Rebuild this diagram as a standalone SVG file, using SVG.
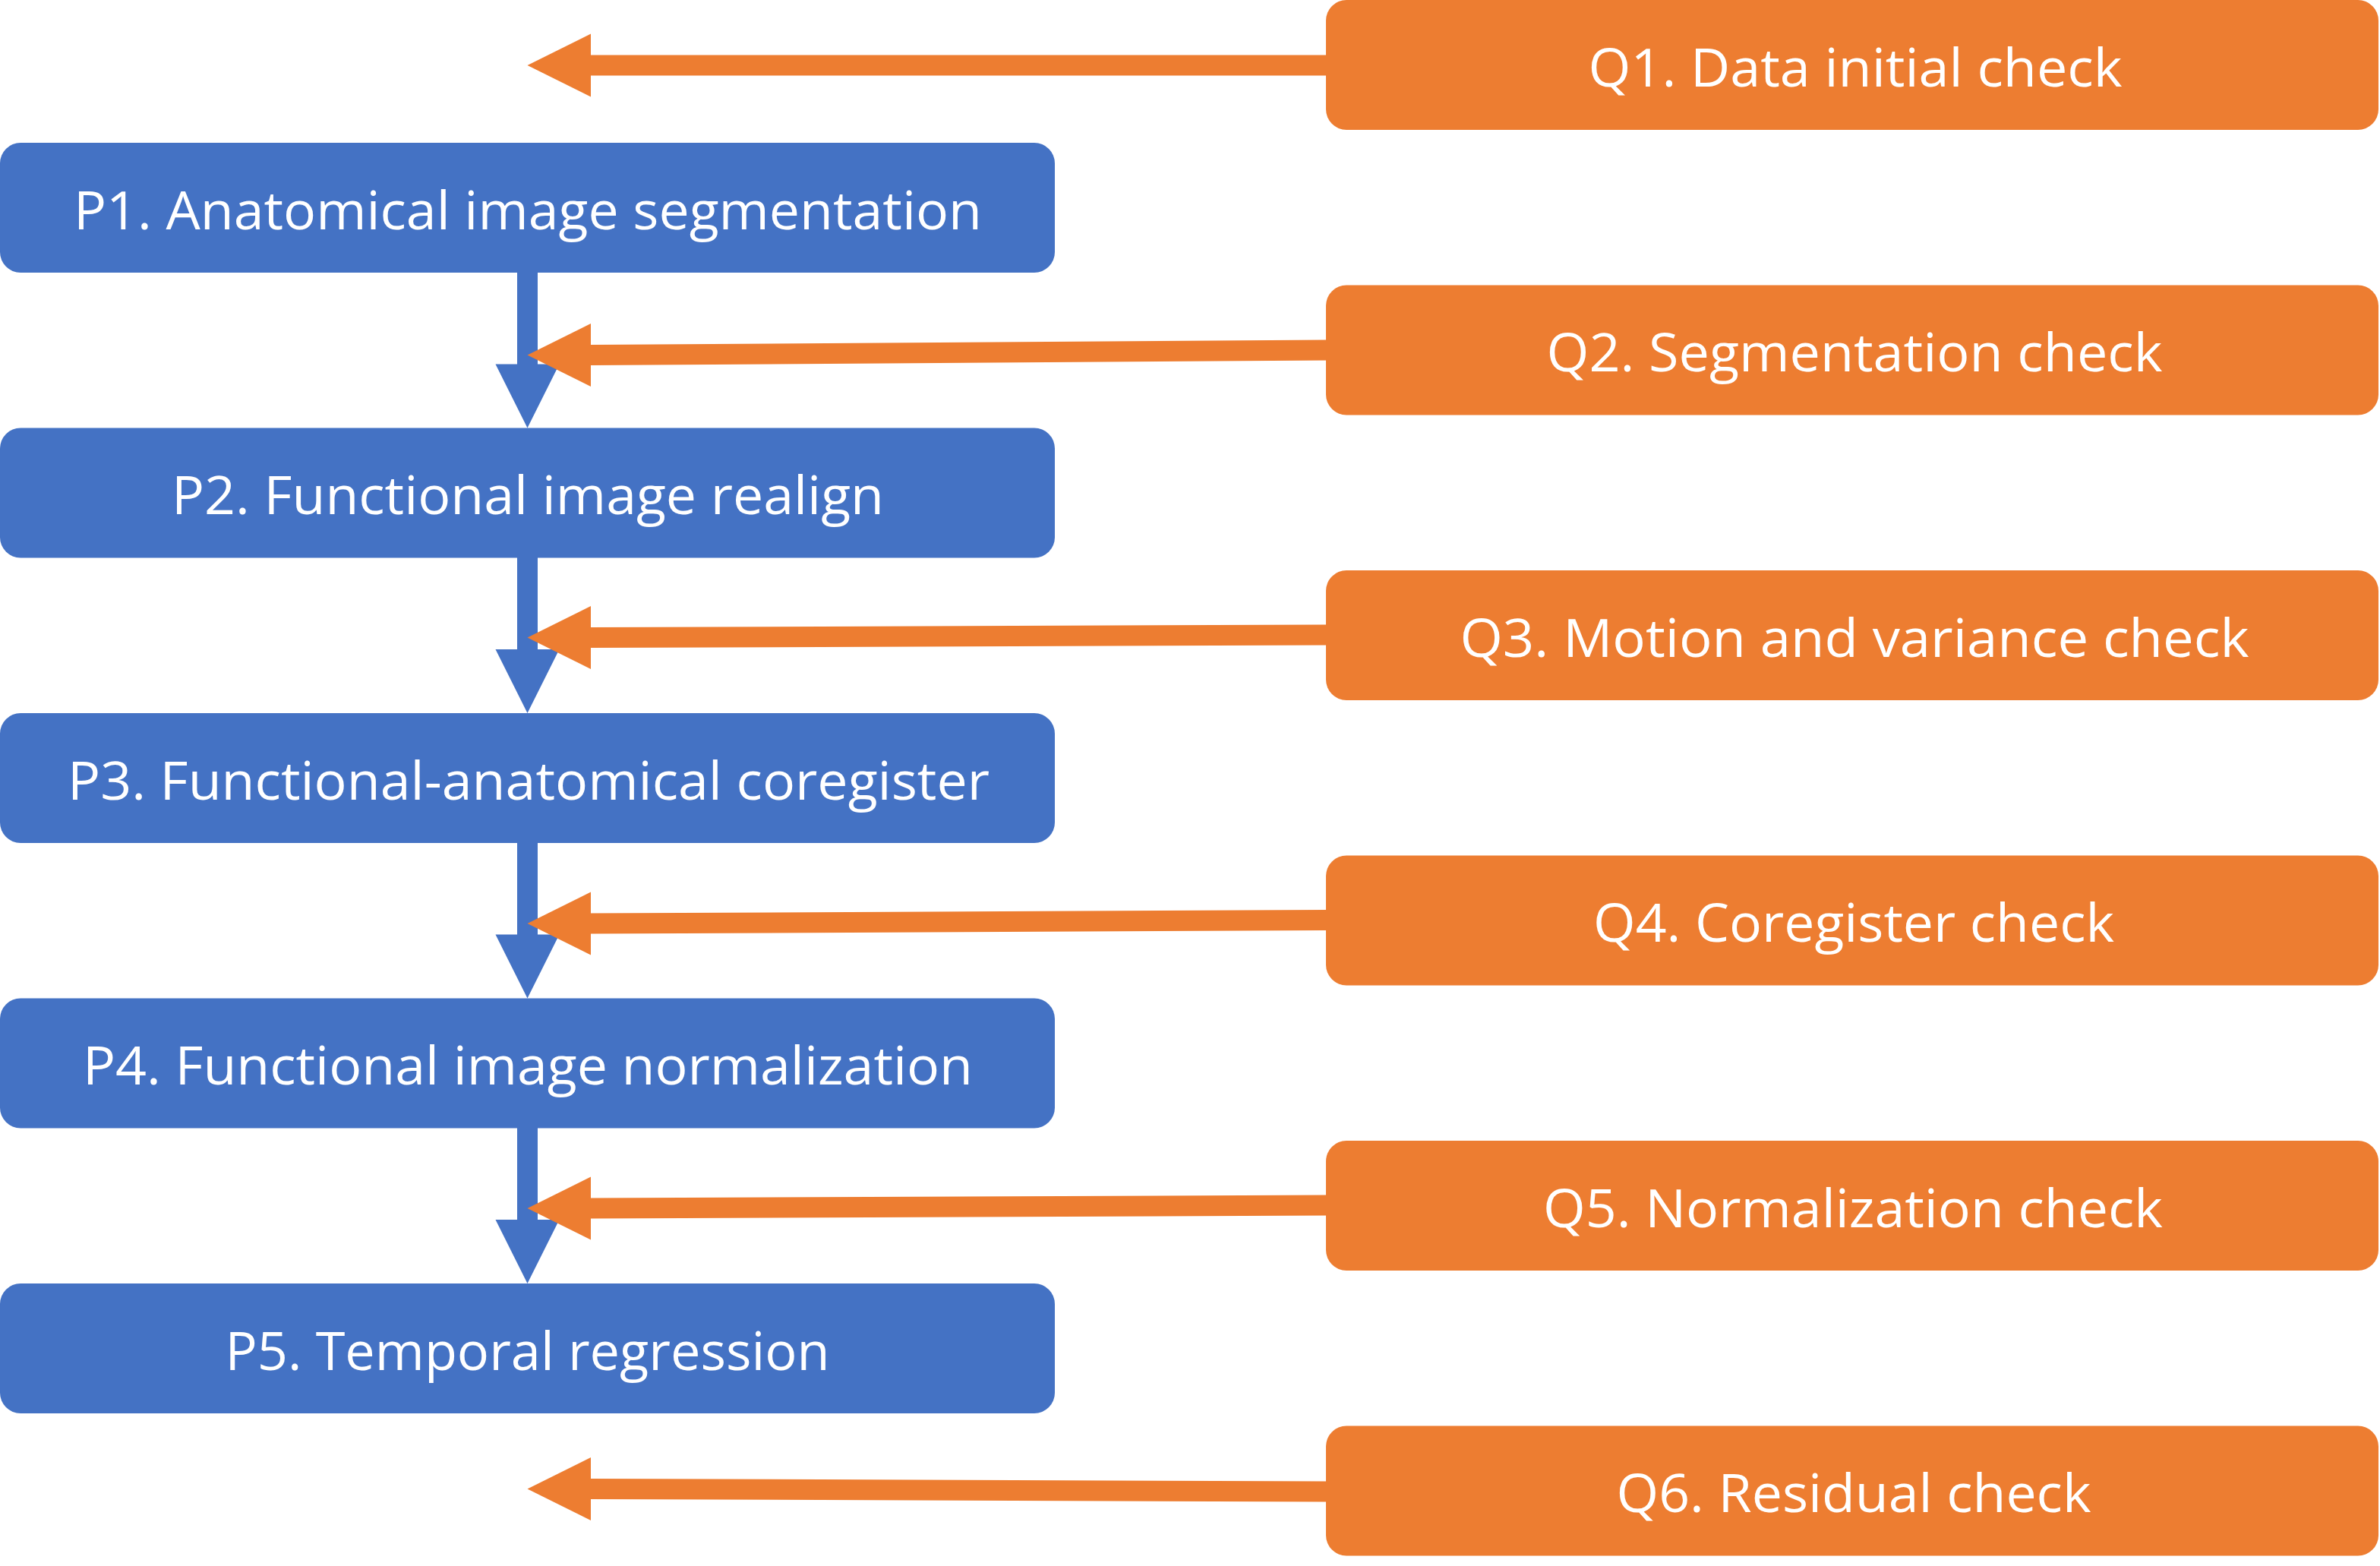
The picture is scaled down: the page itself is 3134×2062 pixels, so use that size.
<svg xmlns="http://www.w3.org/2000/svg" width="3134" height="2062" viewBox="0 0 3134 2062">
<style>
.p{fill:#4472C4}
.q{fill:#ED7D31}
.t{font-family:"Open Sans","Noto Sans","Liberation Sans",sans-serif;font-size:70px;fill:#FFFFFF;text-anchor:middle}
</style>
<rect width="3134" height="2062" fill="#FFFFFF"/>
<g id="connectors">
  <g id="blue-arrows" class="p">
    <rect x="681" y="358" width="27" height="122.5"/><polygon points="652.5,479.5 736.5,479.5 694.5,563.5"/>
    <rect x="681" y="733.5" width="27" height="122.5"/><polygon points="652.5,855 736.5,855 694.5,939"/>
    <rect x="681" y="1109" width="27" height="122.5"/><polygon points="652.5,1230.5 736.5,1230.5 694.5,1314.5"/>
    <rect x="681" y="1484.5" width="27" height="122.5"/><polygon points="652.5,1606 736.5,1606 694.5,1690"/>
  </g>
  <g id="orange-arrows" class="q">
    <polygon points="1748,72.5 1748,99.5 777,99.5 777,72.5"/><polygon points="778,44.5 694.5,86 778,127.5"/>
    <polygon points="1748,447.5 1748,474.5 777,481 777,454"/><polygon points="778,426 694.5,467.5 778,509"/>
    <polygon points="1748,822.5 1748,849.5 777,853 777,826"/><polygon points="778,798 694.5,839.5 778,881"/>
    <polygon points="1748,1198 1748,1225 777,1229.5 777,1202.5"/><polygon points="778,1174.5 694.5,1216 778,1257.5"/>
    <polygon points="1748,1573.5 1748,1600.5 777,1604.5 777,1577.5"/><polygon points="778,1549.5 694.5,1591 778,1632.5"/>
    <polygon points="1748,1950.5 1748,1977.5 777,1974 777,1947"/><polygon points="778,1919 694.5,1960.5 778,2002"/>
  </g>
</g>
<g id="P1"><rect class="p" x="0" y="188" width="1389" height="171" rx="27"/><text class="t" x="695" y="301.5" textLength="1196" lengthAdjust="spacingAndGlyphs">P1. Anatomical image segmentation</text></g>
<g id="P2"><rect class="p" x="0" y="563.5" width="1389" height="171" rx="27"/><text class="t" x="695" y="677" textLength="938" lengthAdjust="spacingAndGlyphs">P2. Functional image realign</text></g>
<g id="P3"><rect class="p" x="0" y="939" width="1389" height="171" rx="27"/><text class="t" x="696" y="1052.5" textLength="1214" lengthAdjust="spacingAndGlyphs">P3. Functional-anatomical coregister</text></g>
<g id="P4"><rect class="p" x="0" y="1314.5" width="1389" height="171" rx="27"/><text class="t" x="695" y="1428" textLength="1172" lengthAdjust="spacingAndGlyphs">P4. Functional image normalization</text></g>
<g id="P5"><rect class="p" x="0" y="1690" width="1389" height="171" rx="27"/><text class="t" x="694.5" y="1803.5" textLength="796" lengthAdjust="spacingAndGlyphs">P5. Temporal regression</text></g>
<g id="Q1"><rect class="q" x="1746" y="0" width="1386" height="171" rx="27"/><text class="t" x="2443" y="113.5" textLength="703" lengthAdjust="spacingAndGlyphs">Q1. Data initial check</text></g>
<g id="Q2"><rect class="q" x="1746" y="375.5" width="1386" height="171" rx="27"/><text class="t" x="2442" y="489" textLength="811" lengthAdjust="spacingAndGlyphs">Q2. Segmentation check</text></g>
<g id="Q3"><rect class="q" x="1746" y="751" width="1386" height="171" rx="27"/><text class="t" x="2442" y="864.5" textLength="1039" lengthAdjust="spacingAndGlyphs">Q3. Motion and variance check</text></g>
<g id="Q4"><rect class="q" x="1746" y="1126.5" width="1386" height="171" rx="27"/><text class="t" x="2441" y="1240" textLength="686" lengthAdjust="spacingAndGlyphs">Q4. Coregister check</text></g>
<g id="Q5"><rect class="q" x="1746" y="1502" width="1386" height="171" rx="27"/><text class="t" x="2440" y="1615.5" textLength="816" lengthAdjust="spacingAndGlyphs">Q5. Normalization check</text></g>
<g id="Q6"><rect class="q" x="1746" y="1877.5" width="1386" height="171" rx="27"/><text class="t" x="2441" y="1991" textLength="625" lengthAdjust="spacingAndGlyphs">Q6. Residual check</text></g>
</svg>
